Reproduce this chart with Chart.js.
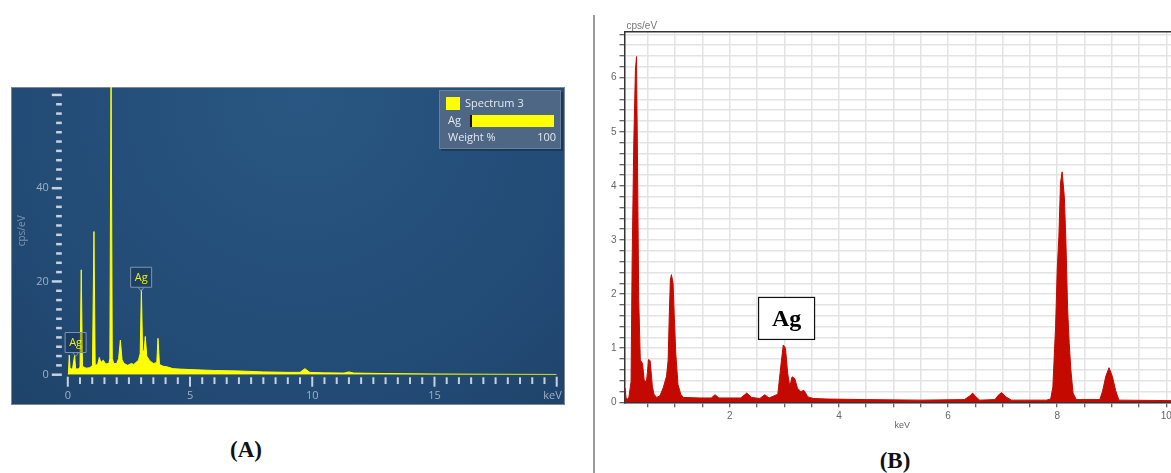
<!DOCTYPE html>
<html lang="en">
<head>
<meta charset="utf-8">
<title>EDS spectra</title>
<script src="https://cdn.jsdelivr.net/npm/chart.js"></script>
<style>
  html, body { margin: 0; padding: 0; background: #fff; }
  body { position: relative; width: 1171px; height: 473px; overflow: hidden; }
  #boxA { position: absolute; left: 11px; top: 87px; width: 554px; height: 318px; }
  #boxB { position: absolute; left: 596px; top: 10px; width: 590px; height: 425px; }
  .divider { position: absolute; left: 593px; top: 15px; width: 2px; height: 458px; background: #9a9a9a; }
  .cap { position: absolute; transform: translate(-50%, -50%); font: bold 23px "Liberation Serif", serif; color: #111; }
</style>
</head>
<body>
<div id="boxA"><canvas id="chartA"></canvas></div>
<div class="divider"></div>
<div id="boxB"><canvas id="chartB"></canvas></div>
<div class="cap" style="left:246px; top:450px;">(A)</div>
<div class="cap" style="left:895px; top:461px;">(B)</div>

<script>
// ---- panel A : Spectrum 3 (yellow on blue) ----
const aKeV = [0, 0.03, 0.06, 0.09, 0.14, 0.20, 0.28, 0.32, 0.42, 0.50,
  0.55, 0.60, 0.75, 0.90, 1.01, 1.07, 1.12, 1.22, 1.29, 1.35,
  1.45, 1.55, 1.68, 1.72, 1.77, 1.82, 1.88, 2.00, 2.08, 2.15,
  2.22, 2.30, 2.45, 2.60, 2.70, 2.89, 2.96, 3.01, 3.06, 3.12,
  3.17, 3.23, 3.35, 3.50, 3.64, 3.69, 3.75, 3.90, 4.05, 4.30,
  4.60, 5.00, 6.00, 7.00, 8.00, 9.00, 9.50, 9.70, 9.90, 10.5,
  11.3, 11.5, 11.7, 13, 15, 17, 20];
const aCps = [0, 1.0, 4.2, 1.4, 1.2, 1.5, 4.2, 1.3, 1.2, 1.6,
  22.5, 1.8, 1.4, 1.5, 2.0, 30.7, 2.0, 2.2, 3.7, 2.6,
  3.1, 2.3, 2.4, 3.5, 66, 3.5, 2.4, 2.4, 3.5, 7.4,
  3.2, 2.4, 2.0, 2.4, 2.2, 3.1, 4.5, 18.2, 5.3, 5.0,
  8.2, 4.0, 3.0, 2.4, 2.6, 7.8, 2.2, 1.8, 1.7, 1.3,
  1.2, 1.1, 0.9, 0.8, 0.6, 0.5, 0.5, 1.3, 0.5, 0.4,
  0.35, 0.6, 0.35, 0.25, 0.15, 0.1, 0.05];
const aXLabels = [0, 5, 10, 15];
const aYLabels = [0, 20, 40];
const aAgTags = [[0.32, 6.9], [3.0, 20.9]];   // keV, cps of the "Ag" tags
const aLegend = { name: 'Spectrum 3', element: 'Ag', weight: 100 };

// ---- panel B : red spectrum on grid ----
const bKeV = [0.07, 0.08, 0.10, 0.12, 0.15, 0.19, 0.21, 0.24, 0.27, 0.29,
  0.31, 0.33, 0.36, 0.40, 0.43, 0.47, 0.49, 0.51, 0.54, 0.58,
  0.61, 0.66, 0.72, 0.78, 0.84, 0.87, 0.89, 0.91, 0.93, 0.96,
  0.98, 1.01, 1.05, 1.10, 1.15, 1.45, 1.66, 1.73, 1.80, 2.20,
  2.31, 2.40, 2.55, 2.64, 2.72, 2.88, 2.94, 2.98, 3.02, 3.06,
  3.10, 3.14, 3.19, 3.24, 3.30, 3.36, 3.43, 3.53, 3.80, 4.50,
  5.50, 6.30, 6.40, 6.45, 6.51, 6.58, 6.86, 6.92, 6.98, 7.06,
  7.16, 7.80, 7.88, 7.92, 7.97, 8.00, 8.03, 8.06, 8.09, 8.13,
  8.16, 8.19, 8.22, 8.25, 8.29, 8.35, 8.78, 8.83, 8.89, 8.95,
  9.01, 9.07, 9.13, 10.25];
const bCps = [0.22, 0.26, 0.07, 0.06, 0.09, 0.38, 2.6, 4.79, 6.14, 6.39,
  4.26, 1.92, 0.78, 0.72, 0.42, 0.36, 0.55, 0.79, 0.77, 0.30,
  0.15, 0.09, 0.12, 0.27, 0.48, 0.78, 1.58, 2.26, 2.36, 2.2,
  1.64, 0.9, 0.33, 0.15, 0.09, 0.08, 0.08, 0.14, 0.08, 0.08,
  0.17, 0.09, 0.07, 0.14, 0.08, 0.15, 0.72, 1.06, 1.0, 0.54,
  0.29, 0.47, 0.44, 0.26, 0.2, 0.22, 0.1, 0.07, 0.06, 0.05,
  0.04, 0.05, 0.12, 0.17, 0.1, 0.04, 0.05, 0.13, 0.18, 0.1,
  0.04, 0.04, 0.06, 0.28, 1.4, 2.45, 3.06, 4.05, 4.26, 3.8,
  2.94, 1.74, 1.09, 0.6, 0.17, 0.05, 0.05, 0.2, 0.48, 0.64,
  0.48, 0.22, 0.04, 0.03];
const bXLabels = [2, 4, 6, 8, 10];
const bYLabels = [0, 1, 2, 3, 4, 5, 6];
const bAgTag = [3.04, 1.55];

const pts = (xs, ys) => xs.map((x, i) => ({ x: x, y: ys[i] }));

// no extra room for half labels at the ends, the plot boxes are fixed
function noPad(s) {
  s.paddingTop = 0; s.paddingBottom = 0; s.paddingLeft = 0; s.paddingRight = 0;
}

// blue gradient panel + legend + tags for A
const panelA = {
  id: 'panelA',
  beforeDraw(chart) {
    const { ctx, width, height } = chart;
    ctx.save();
    const g = ctx.createRadialGradient(290, 10, 10, 290, 10, 560);
    g.addColorStop(0, '#295682');
    g.addColorStop(0.5, '#224b75');
    g.addColorStop(1, '#1c3b60');
    ctx.fillStyle = g;
    ctx.fillRect(0, 0, width, height);
    ctx.strokeStyle = '#7d8894';
    ctx.lineWidth = 1;
    ctx.strokeRect(0.5, 0.5, width - 1, height - 1);
    ctx.restore();
  },
  afterDraw(chart) {
    const { ctx, chartArea: ca, scales: { x, y } } = chart;
    ctx.save();
    // y tick dashes
    ctx.strokeStyle = '#c8d2de';
    ctx.lineWidth = 2.5;
    for (let v = 0; v <= 60; v += 2) {
      const py = y.getPixelForValue(v);
      const len = v % 20 === 0 ? 10 : 5.7;
      ctx.beginPath();
      ctx.moveTo(ca.left - 6 - len, py);
      ctx.lineTo(ca.left - 6, py);
      ctx.stroke();
    }
    // x tick dashes
    ctx.lineWidth = 2;
    for (let i = 0; i <= 40; i++) {
      const px = x.getPixelForValue(i / 2);
      const major = i % 10 === 0;
      ctx.beginPath();
      ctx.moveTo(px, ca.bottom + (major ? 2 : 2.6));
      ctx.lineTo(px, ca.bottom + (major ? 12 : 9.3));
      ctx.stroke();
    }
    // unit at the end of the energy axis
    ctx.font = '11px "Open Sans"';
    ctx.fillStyle = '#9fb1c5';
    ctx.textAlign = 'right';
    ctx.textBaseline = 'middle';
    ctx.fillText('keV', x.getPixelForValue(20) + 5, ca.bottom + 21);
    // Ag tags
    ctx.textAlign = 'center';
    aAgTags.forEach(([k, c]) => {
      const cx = x.getPixelForValue(k), cy = y.getPixelForValue(c);
      ctx.fillStyle = 'rgba(20,40,70,0.35)';
      ctx.strokeStyle = '#7f95ad';
      ctx.lineWidth = 1;
      ctx.beginPath();
      ctx.rect(cx - 10.5, cy - 10, 21, 20);
      ctx.fill();
      ctx.stroke();
      ctx.beginPath();
      ctx.moveTo(cx - 3, cy + 10);
      ctx.lineTo(cx, cy + 14);
      ctx.lineTo(cx + 3, cy + 10);
      ctx.stroke();
      ctx.fillStyle = '#f2f200';
      ctx.fillText('Ag', cx, cy + 0.5);
    });
    // legend box
    ctx.fillStyle = 'rgba(0,0,0,0.25)';
    ctx.fillRect(430, 5, 122, 59);
    ctx.fillStyle = '#4e6785';
    ctx.fillRect(428, 3, 122, 59);
    ctx.strokeStyle = '#6a819c';
    ctx.strokeRect(428.5, 3.5, 121, 58);
    ctx.fillStyle = '#ffff00';
    ctx.fillRect(435, 10, 14, 13);
    ctx.fillRect(461, 28, 82, 12);
    ctx.fillStyle = '#111';
    ctx.fillRect(459, 28, 2, 12);
    ctx.fillStyle = '#e2e8ef';
    ctx.textAlign = 'left';
    ctx.fillText(aLegend.name, 454, 16.5);
    ctx.fillText(aLegend.element, 437, 34);
    ctx.fillText('Weight %', 437, 51);
    ctx.textAlign = 'right';
    ctx.fillText(String(aLegend.weight), 545, 51);
    ctx.restore();
  }
};

new Chart(document.getElementById('chartA'), {
  type: 'line',
  data: {
    datasets: [{
      data: pts(aKeV, aCps),
      borderColor: '#ffff00',
      backgroundColor: '#ffff00',
      borderWidth: 1,
      pointRadius: 0,
      fill: 'origin',
      tension: 0
    }]
  },
  options: {
    responsive: true,
    maintainAspectRatio: false,
    animation: false,
    layout: { padding: { left: 0, right: 8.3, top: 0, bottom: 0 } },
    plugins: { legend: { display: false }, tooltip: { enabled: false } },
    scales: {
      x: {
        type: 'linear', min: 0, max: 20,
        grid: { display: false, drawTicks: false },
        border: { display: false },
        afterBuildTicks: s => { s.ticks = aXLabels.map(v => ({ value: v })); },
        afterFit: s => { s.height = 30.3; noPad(s); },
        ticks: {
          autoSkip: false, maxRotation: 0, padding: 15,
          color: '#9fb1c5', font: { family: 'Open Sans', size: 11 }
        }
      },
      y: {
        type: 'linear', min: 0, max: 61.7,
        grid: { display: false, drawTicks: false },
        border: { display: false },
        afterBuildTicks: s => { s.ticks = aYLabels.map(v => ({ value: v })); },
        afterFit: s => { s.width = 56.8; noPad(s); },
        title: {
          display: true, text: 'cps/eV', color: '#7f95ae',
          font: { family: 'Open Sans', size: 10 }, padding: { top: 5, bottom: 0 }
        },
        ticks: {
          padding: 19, color: '#9fb1c5', font: { family: 'Open Sans', size: 11 }
        }
      }
    }
  },
  plugins: [panelA]
});

// frame, unit text and Ag box for B
const panelB = {
  id: 'panelB',
  afterDraw(chart) {
    const { ctx, chartArea: ca, scales: { x, y } } = chart;
    ctx.save();
    ctx.strokeStyle = '#333';
    ctx.lineWidth = 1.5;
    ctx.beginPath();
    ctx.moveTo(ca.left, ca.top);
    ctx.lineTo(ca.right, ca.top);
    ctx.stroke();
    ctx.fillStyle = '#777';
    ctx.font = '10px "Liberation Sans"';
    ctx.textBaseline = 'middle';
    ctx.fillText('cps/eV', ca.left + 2, ca.top - 5);
    const cx = x.getPixelForValue(bAgTag[0]), cy = y.getPixelForValue(bAgTag[1]);
    ctx.fillStyle = '#fff';
    ctx.fillRect(cx - 28, cy - 21, 56, 42);
    ctx.strokeStyle = '#111';
    ctx.lineWidth = 1.2;
    ctx.strokeRect(cx - 28, cy - 21, 56, 42);
    ctx.fillStyle = '#000';
    ctx.font = 'bold 24px "Liberation Serif"';
    ctx.textAlign = 'center';
    ctx.fillText('Ag', cx, cy + 1);
    ctx.restore();
  }
};

new Chart(document.getElementById('chartB'), {
  type: 'line',
  data: {
    datasets: [{
      data: pts(bKeV, bCps),
      borderColor: '#c40a00',
      backgroundColor: '#c40a00',
      borderWidth: 1,
      pointRadius: 0,
      fill: 'origin',
      tension: 0
    }]
  },
  options: {
    responsive: true,
    maintainAspectRatio: false,
    animation: false,
    layout: { padding: { left: 0, right: 6, top: 21.7, bottom: 0 } },
    plugins: { legend: { display: false }, tooltip: { enabled: false } },
    scales: {
      x: {
        type: 'linear', min: 0.07, max: 10.25,
        afterBuildTicks: s => {
          const t = [];
          for (let i = 1; i <= 20; i++) t.push({ value: i / 2 });
          s.ticks = t;
        },
        afterFit: s => { s.height = 32.7; noPad(s); },
        grid: { color: '#e3e3e3', lineWidth: 1.5, tickColor: '#333', tickLength: 5, tickWidth: 1 },
        border: { display: true, color: '#333', width: 1.5 },
        title: {
          display: true, text: 'keV', color: '#666',
          font: { family: 'Liberation Sans', size: 9 }, padding: { top: 0, bottom: 4 }
        },
        ticks: {
          autoSkip: false, maxRotation: 0, padding: 3,
          color: '#666', font: { family: 'Liberation Sans', size: 10 },
          callback: v => (bXLabels.includes(v) ? v : '')
        }
      },
      y: {
        type: 'linear', min: 0, max: 6.85,
        afterBuildTicks: s => {
          const t = [];
          for (let i = 0; i <= 34; i++) t.push({ value: i / 5 });
          s.ticks = t;
        },
        afterFit: s => { s.width = 28.5; noPad(s); },
        grid: { color: '#e3e3e3', lineWidth: 1.5, tickColor: '#333', tickLength: 5, tickWidth: 1 },
        border: { display: true, color: '#333', width: 1.5 },
        ticks: {
          autoSkip: false, padding: 3,
          color: '#666', font: { family: 'Liberation Sans', size: 10 },
          callback: v => (bYLabels.includes(Math.round(v)) && Math.abs(v - Math.round(v)) < 1e-6 ? Math.round(v) : '')
        }
      }
    }
  },
  plugins: [panelB]
});
</script>
</body>
</html>
